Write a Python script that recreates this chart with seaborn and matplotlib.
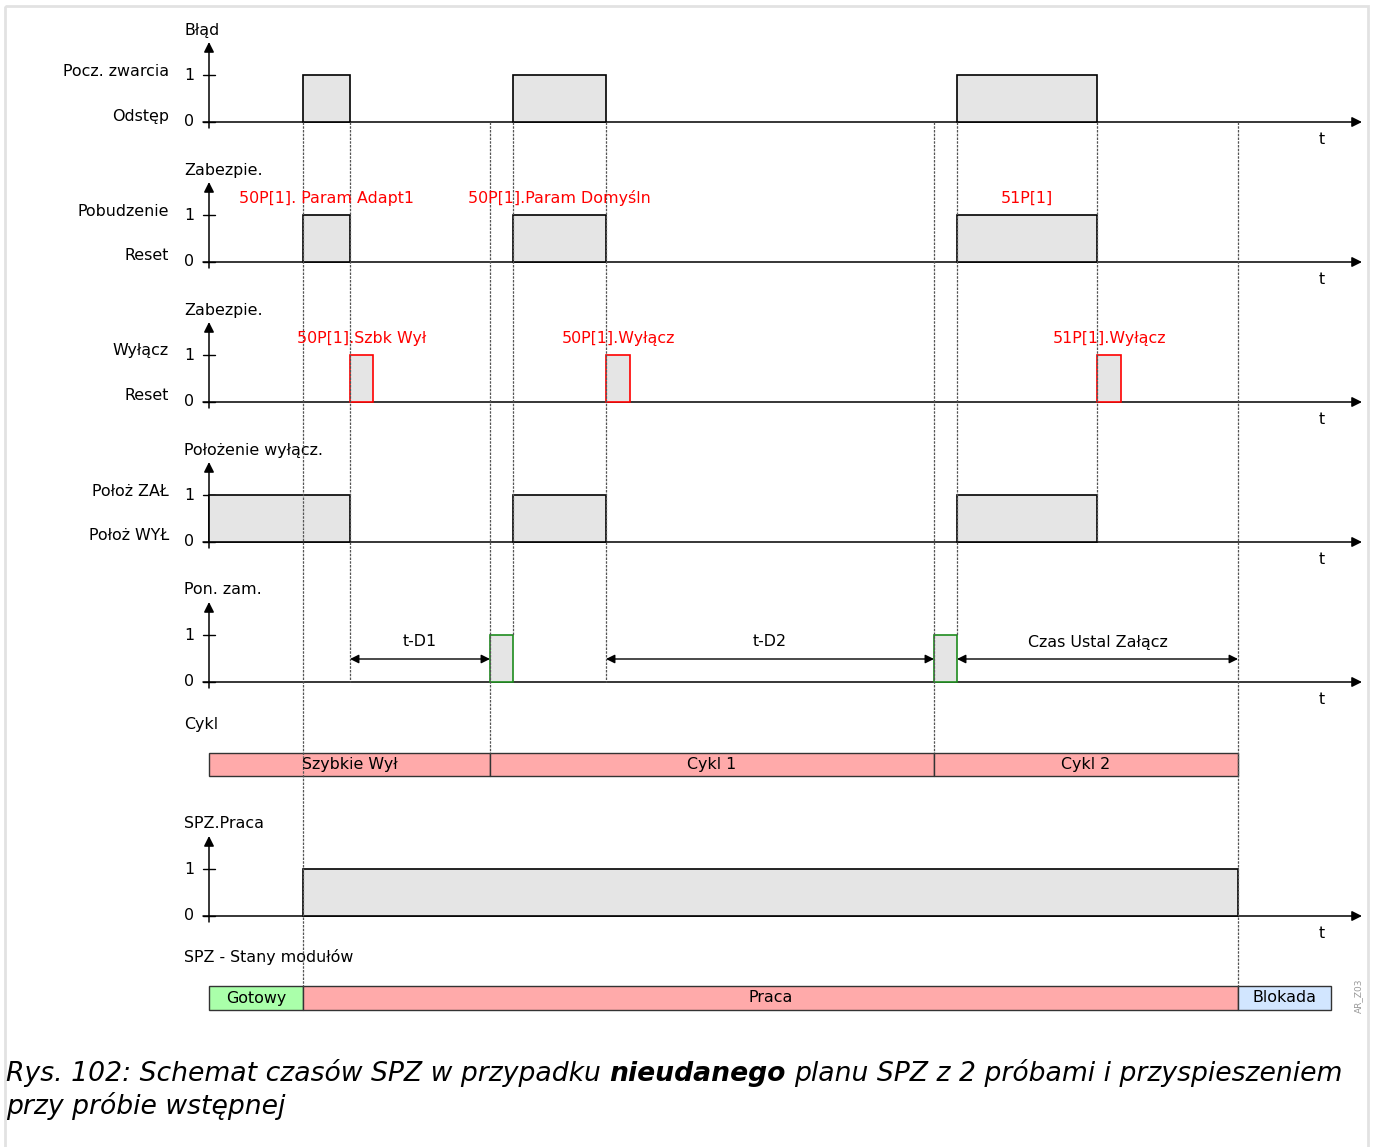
import matplotlib
matplotlib.use("Agg")
import matplotlib.pyplot as plt
from matplotlib.patches import Rectangle
import seaborn as sns

# signal timing, in time units counted from the origin of each signal axis
FAULT = [(94, 141), (304, 397), (748, 888)]
PICKUP = [(94, 141), (304, 397), (748, 888)]
PICKUP_NAMES = ["50P[1]. Param Adapt1", "50P[1].Param Domyśln", "51P[1]"]
TRIP = [(141, 164), (397, 421), (888, 912)]
TRIP_NAMES = ["50P[1].Szbk Wył", "50P[1].Wyłącz", "51P[1].Wyłącz"]
BREAKER = [(0, 141), (304, 397), (748, 888)]
CLOSE_CMD = [(281, 304), (725, 748)]
AR_RUNNING = [(94, 1029)]
TIMER_NAMES = ["t-D1", "t-D2", "Czas Ustal Załącz"]
TIMER_SPANS = [(141, 281), (397, 725), (748, 1029)]
CYCLE_NAMES = ["Szybkie Wył", "Cykl 1", "Cykl 2"]
CYCLE_SPANS = [(0, 281), (281, 725), (725, 1029)]
STATE_NAMES = ["Gotowy", "Praca", "Blokada"]
STATE_SPANS = [(0, 94), (94, 1029), (1029, 1122)]
MARKERS = [94, 141, 281, 304, 397, 725, 748, 888, 1029]

ROW_TITLES = ["Błąd", "Zabezpie.", "Zabezpie.", "Położenie wyłącz.", "Pon. zam.", "SPZ.Praca"]
ROW_HIGH = ["Pocz. zwarcia", "Pobudzenie", "Wyłącz", "Położ ZAŁ", "", ""]
ROW_LOW = ["Odstęp", "Reset", "Reset", "Położ WYŁ", "", ""]

# layout (pixel rows of the 1377 x 1147 canvas)
ORIGIN = 209
BASES = [122, 262, 402, 542, 682, 916]
LEVEL = 47
CYCLE_TOP, CYCLE_H = 753, 23
STATE_TOP, STATE_H = 986, 24
MARKER_BOTTOM = [STATE_TOP, 682, CYCLE_TOP, 635, 682, CYCLE_TOP, 635, 542, STATE_TOP]
AXIS_END = 1362 - ORIGIN

FILL = "#e5e5e5"
RED = "#ff0000"
GREEN = "#1e8c1e"
BAR_RED = "#ffaaaa"
BAR_GREEN = "#aaffaa"
BAR_BLUE = "#d2e6ff"
FS = 11.4
CAP_FS = 19.2

sns.set_theme(style="white", rc={"figure.facecolor": "white", "axes.facecolor": "white",
                                 "text.color": "black"})
plt.rcParams["font.family"] = ["DejaVu Sans"]

ARROW = dict(arrowstyle="-|>", color="black", lw=1.1, shrinkA=0, shrinkB=0, mutation_scale=15)


def draw_axis(ax, base, title, high, low):
    ax.annotate("", xy=(0, base - 80), xytext=(0, base + 6), arrowprops=ARROW)
    ax.annotate("", xy=(AXIS_END, base), xytext=(-6, base), arrowprops=ARROW)
    for y, tick in ((base - LEVEL, "1"), (base, "0")):
        ax.plot([-6, 6], [y, y], color="black", lw=1.0)
        ax.text(-20, y, tick, ha="center", va="center", fontsize=FS)
    ax.text(-25, base - 92, title, ha="left", va="center", fontsize=FS)
    if high:
        ax.text(-40, base - LEVEL - 4, high, ha="right", va="center", fontsize=FS)
        ax.text(-40, base - 6, low, ha="right", va="center", fontsize=FS)
    ax.text(1113, base + 18, "t", ha="center", va="center", fontsize=FS)


def pulses(ax, spans, base, edge="black"):
    starts = [a for a, b in spans]
    widths = [b - a for a, b in spans]
    ax.bar(starts, [-LEVEL] * len(spans), width=widths, bottom=base, align="edge",
           color=FILL, edgecolor=edge, linewidth=1.2, zorder=3)


def state_bar(ax, names, spans, top, height, colors):
    starts = [a for a, b in spans]
    widths = [b - a for a, b in spans]
    ax.bar(starts, [height] * len(spans), width=widths, bottom=top, align="edge",
           color=colors, edgecolor="#333333", linewidth=1.0, zorder=3)
    for name, (a, b) in zip(names, spans):
        ax.text((a + b) / 2, top + height / 2, name, ha="center", va="center", fontsize=FS, zorder=5)


fig, ax = plt.subplots(figsize=(13.77, 11.47), dpi=100)
fig.subplots_adjust(0, 0, 1, 1)
ax.set_xlim(-ORIGIN, 1377 - ORIGIN)
ax.set_ylim(1147, 0)
ax.set_axis_off()

ax.add_patch(Rectangle((5 - ORIGIN, 6), 1363, 1200, fill=False, edgecolor="#e2e2e2", lw=2, clip_on=False))

for base, title, high, low in zip(BASES, ROW_TITLES, ROW_HIGH, ROW_LOW):
    draw_axis(ax, base, title, high, low)

pulses(ax, FAULT, BASES[0])
pulses(ax, PICKUP, BASES[1])
for name, (a, b) in zip(PICKUP_NAMES, PICKUP):
    ax.text((a + b) / 2, BASES[1] - LEVEL - 17, name, ha="center", va="center", color=RED, fontsize=FS, zorder=5)
pulses(ax, TRIP, BASES[2], RED)
for name, (a, b) in zip(TRIP_NAMES, TRIP):
    ax.text((a + b) / 2, BASES[2] - LEVEL - 17, name, ha="center", va="center", color=RED, fontsize=FS, zorder=5)
pulses(ax, BREAKER, BASES[3])
pulses(ax, CLOSE_CMD, BASES[4], GREEN)
pulses(ax, AR_RUNNING, BASES[5])

for name, (a, b) in zip(TIMER_NAMES, TIMER_SPANS):
    ax.annotate("", xy=(b, BASES[4] - 23), xytext=(a, BASES[4] - 23),
                arrowprops=dict(arrowstyle="<|-|>", color="black", lw=1.0, shrinkA=0, shrinkB=0, mutation_scale=13))
    ax.text((a + b) / 2, BASES[4] - 40, name, ha="center", va="center", fontsize=FS)

ax.text(-25, CYCLE_TOP - 29, "Cykl", ha="left", va="center", fontsize=FS)
state_bar(ax, CYCLE_NAMES, CYCLE_SPANS, CYCLE_TOP, CYCLE_H, [BAR_RED] * 3)
ax.text(-25, STATE_TOP - 29, "SPZ - Stany modułów", ha="left", va="center", fontsize=FS)
state_bar(ax, STATE_NAMES, STATE_SPANS, STATE_TOP, STATE_H, [BAR_GREEN, BAR_RED, BAR_BLUE])

ax.vlines(MARKERS, BASES[0], MARKER_BOTTOM, colors="#555555", linestyles=(0, (2, 1)), lw=0.9, zorder=4)

ax.text(1359 - ORIGIN, 996, "AR_Z03", rotation=90, ha="center", va="center", fontsize=6.5, color="#9a9a9a")

# caption with one bold word
cap_x, cap_y = 6 - ORIGIN, 1081
t1 = ax.text(cap_x, cap_y, "Rys. 102: Schemat czasów SPZ w przypadku", fontsize=CAP_FS, style="italic", va="baseline")
t2 = ax.annotate("nieudanego", xy=(1, 0), xycoords=t1, xytext=(8.5, 0), textcoords="offset pixels",
                 fontsize=CAP_FS, style="italic", weight="bold", va="bottom")
ax.annotate("planu SPZ z 2 próbami i przyspieszeniem", xy=(1, 0), xycoords=t2, xytext=(8.5, 0),
            textcoords="offset pixels", fontsize=CAP_FS, style="italic", va="bottom")
ax.text(cap_x, cap_y + 33, "przy próbie wstępnej", fontsize=CAP_FS, style="italic", va="baseline")

fig.savefig("out.png", dpi=100)
